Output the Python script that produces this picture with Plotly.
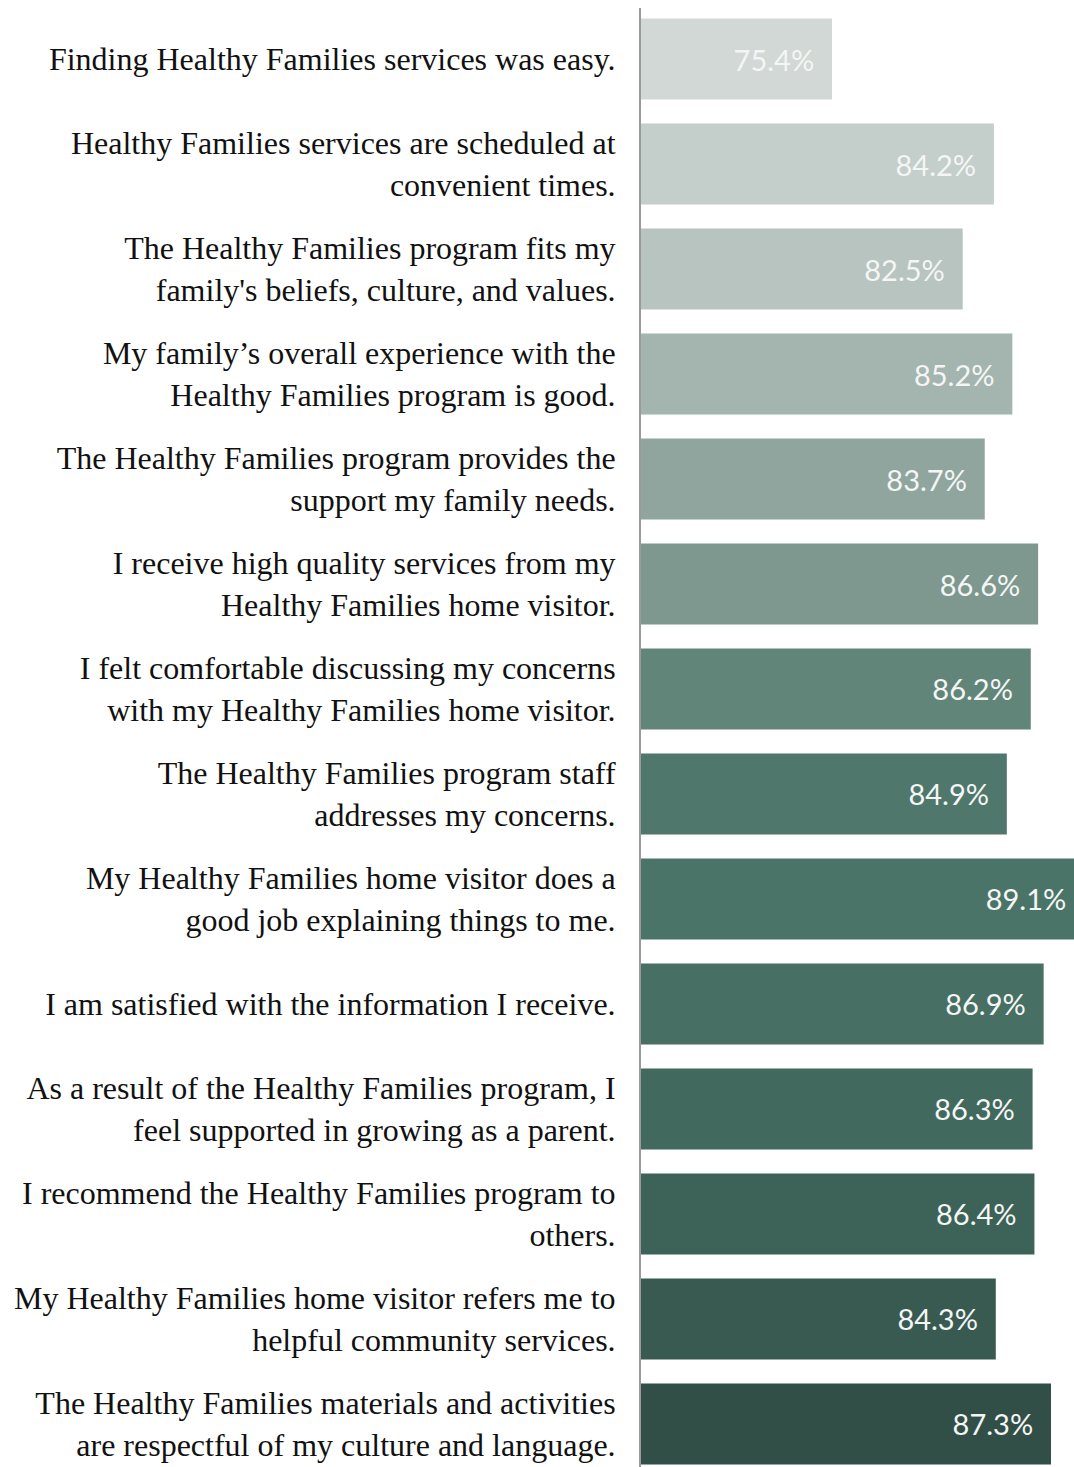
import plotly.graph_objects as go

categories = [
    "Finding Healthy Families services was easy.",
    "Healthy Families services are scheduled at<br>convenient times.",
    "The Healthy Families program fits my<br>family's beliefs, culture, and values.",
    "My family’s overall experience with the<br>Healthy Families program is good.",
    "The Healthy Families program provides the<br>support my family needs.",
    "I receive high quality services from my<br>Healthy Families home visitor.",
    "I felt comfortable discussing my concerns<br>with my Healthy Families home visitor.",
    "The Healthy Families program staff<br>addresses my concerns.",
    "My Healthy Families home visitor does a<br>good job explaining things to me.",
    "I am satisfied with the information I receive.",
    "As a result of the Healthy Families program, I<br>feel supported in growing as a parent.",
    "I recommend the Healthy Families program to<br>others.",
    "My Healthy Families home visitor refers me to<br>helpful community services.",
    "The Healthy Families materials and activities<br>are respectful of my culture and language.",
]
values = [75.4, 84.2, 82.5, 85.2, 83.7, 86.6, 86.2, 84.9, 89.1, 86.9, 86.3, 86.4, 84.3, 87.3]
colors = ["#d1d8d6", "#c4cecb", "#b8c4c0", "#a4b4af", "#91a59f", "#7e988f", "#618579",
          "#4f776b", "#4a7468", "#476f63", "#41695e", "#3d6258", "#385a51", "#324f47"]

ids = list(range(len(categories)))
labels = [f"{v:.1f}%" + "\u00a0" * 2 for v in values]

fig = go.Figure()
fig.add_trace(go.Bar(
    x=values, y=ids, orientation="h",
    marker=dict(color=colors, line=dict(width=0)),
    text=labels, textposition="inside", insidetextanchor="end", textangle=0,
    insidetextfont=dict(family="Lato", size=29, color="#f4f6f5"),
    hoverinfo="skip",
))

fig.update_layout(
    width=1074, height=1467,
    margin=dict(l=641, r=0, t=8, b=0, autoexpand=False),
    paper_bgcolor="white", plot_bgcolor="white",
    showlegend=False, bargap=0.23,
    xaxis=dict(range=[65.02, 88.55], showgrid=False, zeroline=False,
               showticklabels=False, ticks=""),
    yaxis=dict(range=[13.41, -0.486], tickmode="array", tickvals=ids,
               ticktext=categories, showgrid=False, zeroline=False,
               showline=True, linecolor="#9a9a9a", linewidth=2,
               ticks="", ticklabelstandoff=17, automargin=False,
               tickfont=dict(family="Liberation Serif", size=32, color="#111111")),
)

fig.write_html("out.html", config={"displayModeBar": False},
               post_script="document.body.style.margin='0px';document.body.style.overflow='hidden';")
